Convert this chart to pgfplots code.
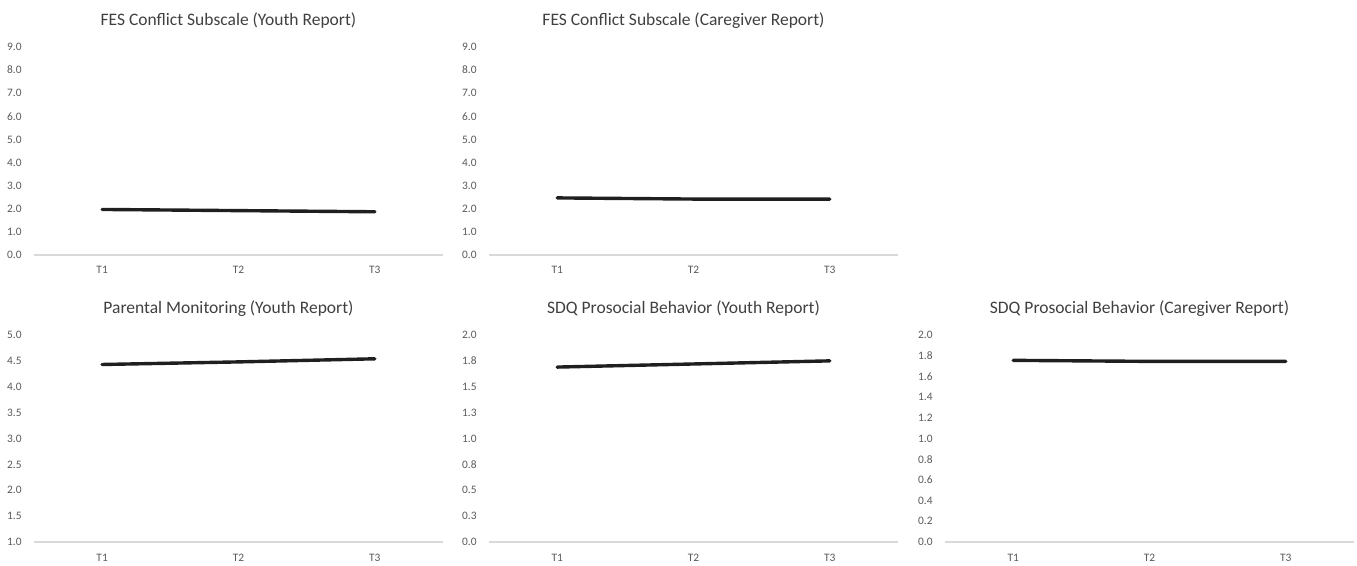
\documentclass[border=0pt]{standalone}
\usepackage{pgfplots}
\pgfplotsset{compat=1.18}
\usepackage{fontspec}
\setmainfont{Carlito}
\definecolor{tickgray}{HTML}{595959}
\definecolor{titlegray}{HTML}{404040}
\definecolor{axgray}{HTML}{D9D9D9}
\definecolor{linec}{HTML}{1F1F1F}
\pgfplotsset{
  panel/.style={
    scale only axis, width=204.5pt, anchor=south west,
    xmin=0.5, xmax=3.5, xtick={1,2,3}, xticklabels={T1,T2,T3},
    axis x line*=bottom, axis y line*=left,
    x axis line style={draw=axgray, line width=0.6pt},
    y axis line style={draw=none},
    major tick length=0pt,
    tick label style={font=\fontsize{5.7}{6}\selectfont, text=tickgray},
    yticklabel style={inner sep=0pt, anchor=east, xshift=-6pt,
      /pgf/number format/.cd, fixed, fixed zerofill, precision=1, assume math mode=true},
    xticklabel style={inner sep=0pt, anchor=center, yshift=-7.5pt},
    title style={at={(0.5,1)}, anchor=center, yshift=7pt, xshift=-5pt,
      font=\fontsize{8.75}{10}\selectfont, text=titlegray},
  },
  dataline/.style={color=linec, line width=1.7pt, line cap=round, line join=round, mark=none},
}
\begin{document}
\begin{tikzpicture}
\useasboundingbox (0,0) rectangle (678.5pt,283pt);
% Top left
\begin{axis}[panel, height=104pt, at={(17pt,155.5pt)},
  ymin=0, ymax=9, ytick={0,1,...,9},
  title={FES Conflict Subscale (Youth Report)}]
\addplot[dataline] coordinates {(1,1.97) (2,1.92) (3,1.87)};
\end{axis}
% Top middle
\begin{axis}[panel, height=104pt, at={(244.5pt,155.5pt)},
  ymin=0, ymax=9, ytick={0,1,...,9},
  title={FES Conflict Subscale (Caregiver Report)}]
\addplot[dataline] coordinates {(1,2.47) (2,2.42) (3,2.42)};
\end{axis}
% Bottom left
\begin{axis}[panel, height=103.5pt, at={(17pt,12pt)},
  ymin=1, ymax=5, ytick={1,1.5,...,5},
  xticklabel style={yshift=-0.5pt},
  title={Parental Monitoring (Youth Report)}]
\addplot[dataline] coordinates {(1,4.43) (2,4.48) (3,4.54)};
\end{axis}
% Bottom middle
\begin{axis}[panel, height=103.5pt, at={(244.5pt,12pt)},
  ymin=0, ymax=2, ytick={0,0.25,0.5,0.75,1,1.25,1.5,1.75,2},
  yticklabels={0.0,0.3,0.5,0.8,1.0,1.3,1.5,1.8,2.0},
  xticklabel style={yshift=-0.5pt},
  title={SDQ Prosocial Behavior (Youth Report)}]
\addplot[dataline] coordinates {(1,1.69) (2,1.72) (3,1.75)};
\end{axis}
% Bottom right
\begin{axis}[panel, height=103.5pt, at={(472.5pt,12pt)},
  ymin=0, ymax=2, ytick={0,0.2,...,2.01},
  xticklabel style={yshift=-0.5pt},
  title={SDQ Prosocial Behavior (Caregiver Report)}]
\addplot[dataline] coordinates {(1,1.755) (2,1.745) (3,1.745)};
\end{axis}
\end{tikzpicture}
\end{document}
